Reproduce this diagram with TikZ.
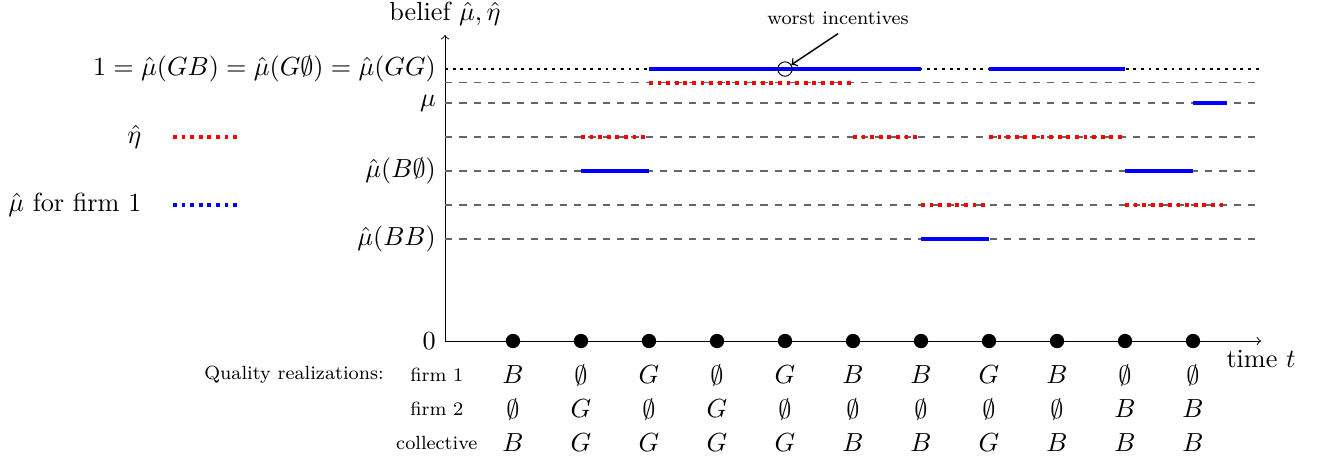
\documentclass[11pt,tikz,border=0pt]{standalone}

\begin{document}
\begin{tikzpicture}[
    x=1cm, y=0.5cm,
    >=to,
    every node/.style={font=\normalsize},
    level/.style={draw=black!60,dashed,semithick},
    certain/.style={draw=black,dotted,very thick},
    muline/.style={draw=blue,ultra thick},
    etaline/.style={draw=red,dotted,ultra thick},
    period/.style={circle,fill=black,inner sep=0pt,minimum size=6pt},
    small/.style={font=\scriptsize}
]
    \useasboundingbox (-6.544,-3.47) rectangle (12.926,10.03);

    % Axes: belief levels against the periods 1,...,11.
    \coordinate (O) at (0,0);
    \coordinate (Tend) at (12,0);
    \coordinate (Yend) at (0,9);
    \draw[->] (O) -- (Tend) node[below] {time $t$};
    \draw[->] (O) -- (Yend) node[above] {belief $\hat\mu,\hat\eta$};

    % Reference levels of the beliefs.
    \draw[certain] (0,8) -- (12,8);
    \foreach \lev in {7.6,7,6,5,4,3}
        \draw[level] (0,\lev) -- (12,\lev);

    \node[left] at (0,8) {$1=\hat\mu(GB)=\hat\mu(G\emptyset)=\hat\mu(GG)$};
    \node[left] at (0,7) {$\mu$};
    \node[left] at (0,5) {$\hat\mu(B\emptyset)$};
    \node[left] at (0,3) {$\hat\mu(BB)$};
    \node[left] at (0,0) {$0$};

    % Legend.
    \node[left] (legeta) at (-4.33,6) {$\hat\eta$};
    \node[left] (legmu) at (-4.33,4) {$\hat\mu$ for firm 1};
    \draw[etaline] (-4,6) -- (-3,6);
    \draw[etaline,draw=blue] (-4,4) -- (-3,4);

    % Reputation of firm 1 over time.
    \draw[muline] (2,5) -- (3,5);
    \foreach \t in {3,4,5,6,8,9}
        \draw[muline] (\t,8) -- ({\t+1},8);
    \draw[muline] (7,3) -- (8,3);
    \draw[muline] (10,5) -- (11,5);
    \draw[muline] (11,7) -- (11.5,7);

    % Collective reputation.
    \draw[etaline] (2,6) -- (3,6);
    \draw[etaline] (3,7.6) -- (6,7.6);
    \draw[etaline] (6,6) -- (7,6);
    \draw[etaline] (7,4) -- (8,4);
    \draw[etaline] (8,6) -- (10,6);
    \draw[etaline] (10,4) -- (11.5,4);

    % Periods on the time axis.
    \foreach \t in {1,...,11}
        \node[period] (p\t) at (\t,0) {};

    % Worst incentives.
    \node[circle,draw,inner sep=0pt,minimum size=6pt] (worst) at (5,8) {};
    \node[small] (worsttxt) at (5.78,9.5) {worst incentives};
    \draw[->,semithick] (worsttxt.south) -- (worst);

    % Table of quality realizations.
    \node[small] (qr) at (-2.22,-1) {Quality realizations:};
    \node[small] (f1) at (-0.12,-1) {firm 1};
    \node[small] (f2) at (-0.12,-2) {firm 2};
    \node[small] (col) at (-0.12,-3) {collective};
    \foreach \q [count=\t] in {B,\emptyset,G,\emptyset,G,B,B,G,B,\emptyset,\emptyset}
        \node (a\t) at (\t,-1) {$\q$};
    \foreach \q [count=\t] in {\emptyset,G,\emptyset,G,\emptyset,\emptyset,\emptyset,\emptyset,\emptyset,B,B}
        \node (b\t) at (\t,-2) {$\q$};
    \foreach \q [count=\t] in {B,G,G,G,G,B,B,G,B,B,B}
        \node (c\t) at (\t,-3) {$\q$};
\end{tikzpicture}
\end{document}
